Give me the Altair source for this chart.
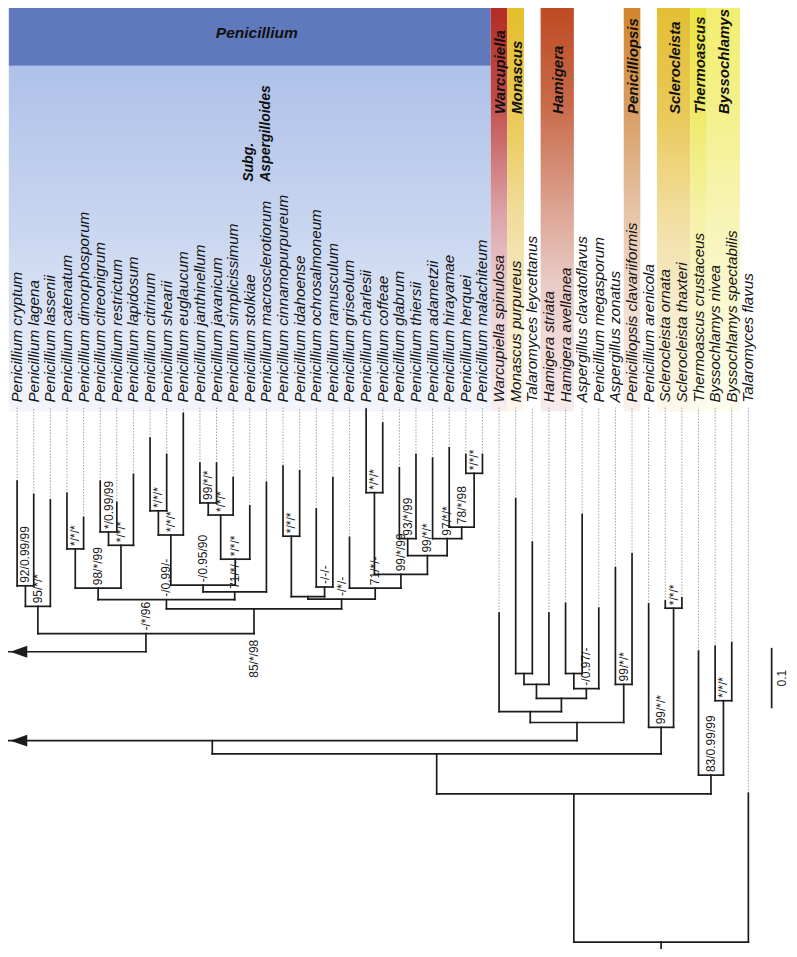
import altair as alt
import pandas as pd

# ---------------- data ----------------
taxa = [
    "Penicillium cryptum", "Penicillium lagena", "Penicillium lassenii", "Penicillium catenatum",
    "Penicillium dimorphosporum", "Penicillium citreonigrum", "Penicillium restrictum",
    "Penicillium lapidosum", "Penicillium citrinum", "Penicillium shearii", "Penicillium euglaucum",
    "Penicillium janthinellum", "Penicillium javanicum", "Penicillium simplicissimum",
    "Penicillium stolkiae", "Penicillium macrosclerotiorum", "Penicillium cinnamopurpureum",
    "Penicillium idahoense", "Penicillium ochrosalmoneum", "Penicillium ramusculum",
    "Penicillium griseolum", "Penicillium charlesii", "Penicillium coffeae", "Penicillium glabrum",
    "Penicillium thiersii", "Penicillium adametzii", "Penicillium hirayamae", "Penicillium herquei",
    "Penicillium malachiteum", "Warcupiella spinulosa", "Monascus purpureus",
    "Talaromyces leycettanus", "Hamigera striata", "Hamigera avellanea",
    "Aspergillus clavatoflavus", "Penicillium megasporum", "Aspergillus zonatus",
    "Penicilliopsis clavariiformis", "Penicillium arenicola", "Sclerocleista ornata",
    "Sclerocleista thaxteri", "Thermoascus crustaceus", "Byssochlamys nivea",
    "Byssochlamys spectabilis", "Talaromyces flavus",
]

# distance of each tip from the root (substitutions / site)
tip_depth = [0.762, 0.740, 0.731, 0.742, 0.702, 0.762, 0.727, 0.773, 0.833, 0.806,
             0.874, 0.792, 0.792, 0.768, 0.721, 0.760, 0.787, 0.779, 0.716, 0.768,
             0.669, 0.881, 0.858, 0.784, 0.806, 0.800, 0.817, 0.806, 0.806, 0.544,
             0.733, 0.661, 0.544, 0.560, 0.707, 0.552, 0.619, 0.642, 0.559, 0.564,
             0.569, 0.481, 0.489, 0.495, 0.246]

# internal nodes (children listed before parents); ints = tips, "CUT" = collapsed link
node_id = ["n1", "n2", "n3", "n4", "n5", "n6", "n7", "n8", "n9", "n10", "n11", "n12", "n13", "n14",
           "n15", "n16", "n17", "n18", "n19", "n20", "n21", "n22", "n23", "n24", "n25", "n26", "n27", "n28",
           "m1", "m2", "m3", "m4", "m5", "m6", "m7", "m8", "m9", "s1", "m10", "m11", "b1", "b2", "m12", "root"]
node_a = [0, "n1", 3, 5, "n4", "n3", 8, "n7", 11, "n9", "n10", "n8", "n12", "n6",
          16, 18, "n15", 21, 23, 27, 26, 25, "n19", "n18", 20, "n17", "n14", "n2",
          30, "m1", 33, "m3", "m2", 29, 36, "m6", "CUT", 39, 38, "m9", 42, 41, "m11", "m12"]
node_b = [1, 2, 4, 6, 7, "n5", 9, 10, 12, 13, 14, "n11", 15, "n13",
          17, 19, "n16", 22, 24, 28, "n20", "n21", "n22", "n23", "n24", "n25", "n26", "n27",
          31, 32, 34, 35, "m4", "m5", 37, "m7", "m8", 40, "s1", "m10", 43, "b1", "b2", 44]
node_depth = [0.589, 0.555, 0.650, 0.678, 0.656, 0.585, 0.713, 0.673, 0.726, 0.706, 0.633, 0.590,
              0.579, 0.566, 0.671, 0.587, 0.571, 0.743, 0.667, 0.775, 0.686, 0.667, 0.639, 0.608,
              0.585, 0.567, 0.551, 0.510,
              0.444, 0.426, 0.444, 0.419, 0.403, 0.381, 0.426, 0.363, 0.333, 0.552, 0.355, 0.311,
              0.399, 0.276, 0.245, 0.0]
node_support = ["92/0.99/99", "95/*/*", "*/*/*", "*/0.99/99", "*/*/*", "98/*/99", "*/*/*", "*/*/*",
                "99/*/*", "*/*/*", "*/*/*", "-/0.95/90", "71/*/-", "-/0.99/-", "*/*/*", "-/-/-", "",
                "*/*/*", "93/*/99", "*/*/*", "78/*/98", "97/*/*", "99/*/*", "99/*/99", "71/*/-",
                "-/*/-", "85/*/98", "-/*/96",
                "", "", "", "-/0.97/-", "", "", "99/*/*", "", "", "*/*/*", "99/*/*", "", "*/*/*",
                "83/0.99/99", "", ""]
support_below = ["n27"]

# collapsed Penicillium lineage
CUT_X = -10.2
PEN_LINK_DEPTH = 0.480
ARROW_X = 0.1

# genus bands (first / last tip index)
pen_first, pen_last = 0, 28
band_names = ["Warcupiella", "Monascus", "Hamigera", "Penicilliopsis",
              "Sclerocleista", "Thermoascus", "Byssochlamys"]
band_first = [29, 30, 32, 37, 39, 41, 42]
band_last = [29, 30, 33, 37, 40, 41, 43]

scale_bar_value = 0.1

# ---------------- styles ----------------
band_stops = [
    [(0, "#B52D24"), (0.22, "#C04A48"), (0.5, "#DBA0A6"), (0.68, "#EACACD"), (1, "#F8EEF0")],
    [(0, "#E5BE2C"), (0.3, "#EBCB5E"), (0.5, "#F0DC98"), (0.68, "#F4E7BE"), (1, "#FCF8EC")],
    [(0, "#BD4B22"), (0.25, "#C96C4C"), (0.5, "#DCA493"), (0.68, "#E9CBC6"), (1, "#F7ECEC")],
    [(0, "#D2862C"), (0.25, "#D89D62"), (0.5, "#E6C3A6"), (0.68, "#EFD9CB"), (1, "#FAF1EC")],
    [(0, "#E4BE34"), (0.25, "#E9C855"), (0.5, "#F1DD9C"), (0.68, "#F5E9C4"), (1, "#FCF8EC")],
    [(0, "#EAE53C"), (0.25, "#EFEA66"), (0.5, "#F5F1A4"), (0.68, "#F8F5C6"), (1, "#FDFCEE")],
    [(0, "#F2EE70"), (0.25, "#F4F08A"), (0.5, "#F7F4B4"), (0.68, "#F9F7CA"), (1, "#FDFDF0")],
]
pen_light_stops = [(0, "#AEC1E8"), (0.5, "#CAD7F0"), (1, "#F3F6FC")]
PEN_DARK = "#5F79BC"
LINE = "#1c1c1c"
FONT = "Liberation Sans"

W, H = 781, 941
X_MIN, X_MAX = -0.548, 46.445
Y_TOP = 1.5443
Y_BOT = -0.01148
HEADER_BOTTOM = 1.449
BAND_BOTTOM = 0.877
DOT_END = 0.8836
LABEL_DEPTH = 0.892
GENUS_LABEL_DEPTH = 1.369
SUBG_DEPTH = 1.257
HEADER_TEXT_DEPTH = 1.503

# ---------------- layout ----------------
xpos = {i: float(i) for i in range(len(taxa))}
dep = {i: tip_depth[i] for i in range(len(taxa))}
xpos["CUT"] = CUT_X
parent = {}
for nid, a, b, d in zip(node_id, node_a, node_b, node_depth):
    xpos[nid] = (xpos[a] + xpos[b]) / 2
    dep[nid] = d
    parent[a] = nid
    parent[b] = nid

segs = []
for nid, a, b, d in zip(node_id, node_a, node_b, node_depth):
    segs.append({"x": xpos[a], "x2": xpos[b], "y": d, "y2": d})
    for c in (a, b):
        if c != "CUT":
            segs.append({"x": xpos[c], "x2": xpos[c], "y": dep[c], "y2": d})
segs.append({"x": xpos["root"], "x2": xpos["root"], "y": 0.0, "y2": Y_BOT})
segs.append({"x": xpos["n28"], "x2": xpos["n28"], "y": dep["n28"], "y2": PEN_LINK_DEPTH})
segs.append({"x": xpos["n28"], "x2": CUT_X, "y": PEN_LINK_DEPTH, "y2": PEN_LINK_DEPTH})
seg_df = pd.DataFrame(segs)

dot_df = pd.DataFrame({"x": list(range(len(taxa))), "y": tip_depth,
                       "y2": [DOT_END] * len(taxa)})
lab_df = pd.DataFrame({"x": list(range(len(taxa))), "y": [LABEL_DEPTH] * len(taxa), "t": taxa})
arrow_df = pd.DataFrame({"x": [ARROW_X, ARROW_X], "y": [PEN_LINK_DEPTH, dep["m9"]]})

sup_above, sup_below = [], []
for nid, s in zip(node_id, node_support):
    if not s:
        continue
    if nid in support_below:
        sup_below.append({"x": xpos[nid], "y": dep[parent[nid]] - 0.073, "t": s})
    else:
        sup_above.append({"x": xpos[nid], "y": dep[nid], "t": s})
sup_df = pd.DataFrame(sup_above)
supb_df = pd.DataFrame(sup_below)

xs = alt.Scale(domain=[X_MIN, X_MAX], nice=False, zero=False)
ys = alt.Scale(domain=[Y_BOT, Y_TOP], nice=False, zero=False)


def X(f):
    return alt.X(f, type="quantitative", scale=xs, axis=None)


def Y(f):
    return alt.Y(f, type="quantitative", scale=ys, axis=None)


def grad(stops):
    return alt.Gradient(gradient="linear",
                        stops=[alt.GradientStop(offset=o, color=c) for o, c in stops],
                        x1=0, x2=0, y1=0, y2=1)


layers = []
# Penicillium light band + header
pen_df = pd.DataFrame({"x": [pen_first - 0.5], "x2": [pen_last + 0.5],
                       "y": [HEADER_BOTTOM], "y2": [BAND_BOTTOM]})
layers.append(alt.Chart(pen_df).mark_rect(fill=grad(pen_light_stops)).encode(
    x=X("x"), x2="x2", y=Y("y"), y2="y2"))
head_df = pd.DataFrame({"x": [pen_first - 0.5], "x2": [pen_last + 0.5],
                        "y": [Y_TOP], "y2": [HEADER_BOTTOM]})
layers.append(alt.Chart(head_df).mark_rect(fill=PEN_DARK).encode(
    x=X("x"), x2="x2", y=Y("y"), y2="y2"))
for name, f, l, st in zip(band_names, band_first, band_last, band_stops):
    bdf = pd.DataFrame({"x": [f - 0.5], "x2": [l + 0.5], "y": [Y_TOP], "y2": [BAND_BOTTOM]})
    layers.append(alt.Chart(bdf).mark_rect(fill=grad(st)).encode(
        x=X("x"), x2="x2", y=Y("y"), y2="y2"))

# dotted tip extensions
layers.append(alt.Chart(dot_df).mark_rule(color="#8a8a8a", strokeWidth=0.8, strokeDash=[1.5, 1.5]).encode(
    x=X("x"), y=Y("y"), y2="y2"))
# tree
layers.append(alt.Chart(seg_df).mark_rule(color=LINE, strokeWidth=1.7, strokeCap="square", clip=True).encode(
    x=X("x"), x2="x2", y=Y("y"), y2="y2"))
layers.append(alt.Chart(arrow_df).mark_point(shape="M -1 0 L 1 -0.7 L 1 0.7 Z", size=289, filled=True,
                                             opacity=1, color=LINE, strokeWidth=0).encode(
    x=X("x"), y=Y("y")))
# scale bar
sb_df = pd.DataFrame({"x": [45.4], "y": [0.3864], "y2": [0.3864 + scale_bar_value],
                      "t": [str(scale_bar_value)], "tx": [46.05], "ty": [0.3864 + scale_bar_value / 2]})
layers.append(alt.Chart(sb_df).mark_rule(color=LINE, strokeWidth=1.7).encode(
    x=X("x"), y=Y("y"), y2="y2"))
layers.append(alt.Chart(sb_df).mark_text(angle=270, align="center", baseline="middle", font=FONT,
                                         fontSize=12, color="#222").encode(
    x=X("tx"), y=Y("ty"), text="t"))

# tip labels
layers.append(alt.Chart(lab_df).mark_text(angle=270, align="left", baseline="middle", font=FONT,
                                          fontSize=15.2, fontStyle="italic", color="#151515").encode(
    x=X("x"), y=Y("y"), text="t"))
# support values
layers.append(alt.Chart(sup_df).mark_text(angle=270, align="left", baseline="middle", font=FONT,
                                          fontSize=12, dx=3, color="#1a1a1a").encode(
    x=X("x"), y=Y("y"), text="t"))
layers.append(alt.Chart(supb_df).mark_text(angle=270, align="left", baseline="middle", font=FONT,
                                           fontSize=12, color="#1a1a1a").encode(
    x=X("x"), y=Y("y"), text="t"))

# genus labels
gl_df = pd.DataFrame({"x": [(f + l) / 2 for f, l in zip(band_first, band_last)],
                      "y": [GENUS_LABEL_DEPTH] * len(band_names), "t": band_names})
layers.append(alt.Chart(gl_df).mark_text(angle=270, align="left", baseline="middle", font=FONT,
                                         fontSize=15, fontWeight="bold", fontStyle="italic",
                                         dy=1, color="#111").encode(
    x=X("x"), y=Y("y"), text="t"))
ph_df = pd.DataFrame({"x": [(pen_first + pen_last) / 2], "y": [HEADER_TEXT_DEPTH], "t": ["Penicillium"]})
layers.append(alt.Chart(ph_df).mark_text(align="center", baseline="middle", font=FONT, fontSize=15.5,
                                         fontWeight="bold", fontStyle="italic", dx=7,
                                         color="#111").encode(
    x=X("x"), y=Y("y"), text="t"))
sg_df = pd.DataFrame({"x": [(pen_first + pen_last) / 2], "y": [SUBG_DEPTH],
                      "t": [["Subg.", "Aspergilloides"]]})
layers.append(alt.Chart(sg_df).mark_text(angle=270, align="left", baseline="middle", font=FONT,
                                         fontSize=14, fontWeight="bold", fontStyle="italic",
                                         lineHeight=17, dy=-1, color="#111").encode(
    x=X("x"), y=Y("y"), text="t"))

chart = alt.layer(*layers).properties(
    width=W, height=H, padding=0,
    autosize=alt.AutoSizeParams(type="none"),
).configure_view(strokeWidth=0)

chart.save("out.html", embed_options={"renderer": "svg", "actions": False})
